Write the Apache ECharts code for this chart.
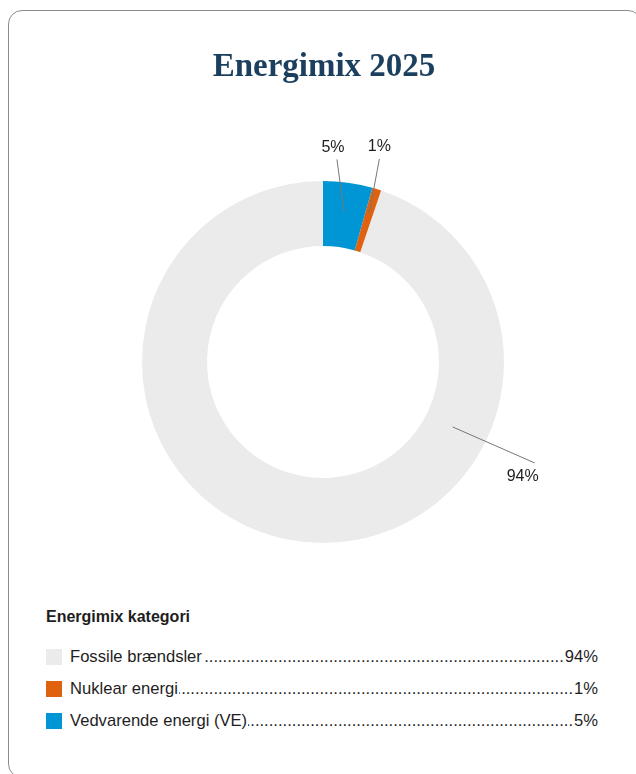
<!DOCTYPE html>
<html>
<head>
<meta charset="utf-8">
<script src="https://cdn.jsdelivr.net/npm/echarts@6/dist/echarts.min.js"></script>
<style>
  html, body { margin: 0; padding: 0; background: #fff; }
  .card {
    position: absolute; left: 8px; top: 10px; width: 634px; height: 768px;
    border: 1px solid #8c8c8c; border-radius: 14px; box-sizing: border-box;
  }
  #chart { position: absolute; left: 0; top: 0; width: 636px; height: 590px; }
  .legend {
    position: absolute; left: 46px; top: 606px; width: 552px;
    font-family: "Liberation Sans", Arial, sans-serif; color: #1e1e1e; font-size: 16.6px;
  }
  .legend h4 { margin: 0 0 13px 0; font-size: 16px; font-weight: bold; line-height: 22px; }
  .row { display: flex; align-items: center; height: 32px; }
  .swatch { width: 16px; height: 16px; flex: none; margin-right: 8px; }
  .name { flex: none; white-space: nowrap; }
  .dots { flex: 1; overflow: hidden; white-space: nowrap; direction: rtl; margin: 0 1px; }
  .val { flex: none; }
</style>
</head>
<body>
<div class="card"></div>
<div id="chart"></div>
<div class="legend" id="legend"></div>
<script>
// data
const categories = ['Fossile brændsler', 'Nuklear energi', 'Vedvarende energi (VE)']
const sliceShares = [94.8, 0.8, 4.4]
const shareLabels = ['94%', '1%', '5%']
const colors = ['#ebebeb', '#e0620e', '#0096d6']

const CX = 323, CY = 362, R_IN = 116, R_OUT = 181

// where each label line starts (angle clockwise from 12 o'clock, null = slice middle)
// and how far the line / text are offset from there
const labelGuides = [
  { angle: 116.6, r: 145, dx: 82, dy: 36, tx: -12, ty: 14 },
  { angle: null, r: 156, dx: 10, dy: -54, tx: 0, ty: -12 },
  { angle: null, r: 152, dx: -7, dy: -52, tx: -4, ty: -12 },
]

// slices run counter-clockwise from the top, so the last one sits right of 12 o'clock
function midAngle(i) {
  const total = sliceShares.reduce((a, b) => a + b, 0)
  let after = 0
  for (let k = i + 1; k < sliceShares.length; k++) after += sliceShares[k]
  return (after + sliceShares[i] / 2) / total * 360
}

const pieBase = {
  type: 'pie',
  center: [CX, CY],
  radius: [R_IN, R_OUT],
  startAngle: 90,
  clockwise: false,
  silent: true,
}

const chart = echarts.init(document.getElementById('chart'))
chart.setOption({
  animation: false,
  title: {
    text: 'Energimix 2025',
    left: CX - 4,
    textAlign: 'center',
    top: 46,
    textStyle: { fontFamily: '"Liberation Serif", serif', fontSize: 33, fontWeight: 'bold', color: '#1b3f5e' },
  },
  series: [
    {
      ...pieBase,
      data: categories.map((c, i) => ({ name: c, value: sliceShares[i], itemStyle: { color: colors[i] } })),
      label: { show: false },
      labelLine: { show: false },
    },
    // same slices again, invisible, only so the label lines sit above the ring
    {
      ...pieBase,
      z: 5,
      data: categories.map((c, i) => ({ name: c, value: sliceShares[i] })),
      itemStyle: { color: 'rgba(0,0,0,0)' },
      label: {
        show: true,
        position: 'outside',
        formatter: (p) => shareLabels[p.dataIndex],
        fontFamily: '"Liberation Sans", Arial, sans-serif',
        fontSize: 16,
        color: '#1e1e1e',
      },
      labelLine: { show: true, lineStyle: { color: '#777', width: 1 } },
      labelLayout: (params) => {
        const i = params.dataIndex
        const g = labelGuides[i]
        const a = (g.angle == null ? midAngle(i) : g.angle) * Math.PI / 180
        const sx = CX + g.r * Math.sin(a)
        const sy = CY - g.r * Math.cos(a)
        const ex = sx + g.dx, ey = sy + g.dy
        return {
          x: ex + g.tx, y: ey + g.ty,
          align: 'center', verticalAlign: 'middle',
          labelLinePoints: [[sx, sy], [ex, ey], [ex, ey]],
        }
      },
    },
  ],
})

// legend with dotted leaders
const legend = document.getElementById('legend')
let html = '<h4>Energimix kategori</h4>'
categories.forEach((c, i) => {
  html += '<div class="row"><span class="swatch" style="background:' + colors[i] + '"></span>' +
    '<span class="name">' + c + '</span><span class="dots">' + '.'.repeat(200) + '</span>' +
    '<span class="val">' + shareLabels[i] + '</span></div>'
})
legend.innerHTML = html
</script>
</body>
</html>
